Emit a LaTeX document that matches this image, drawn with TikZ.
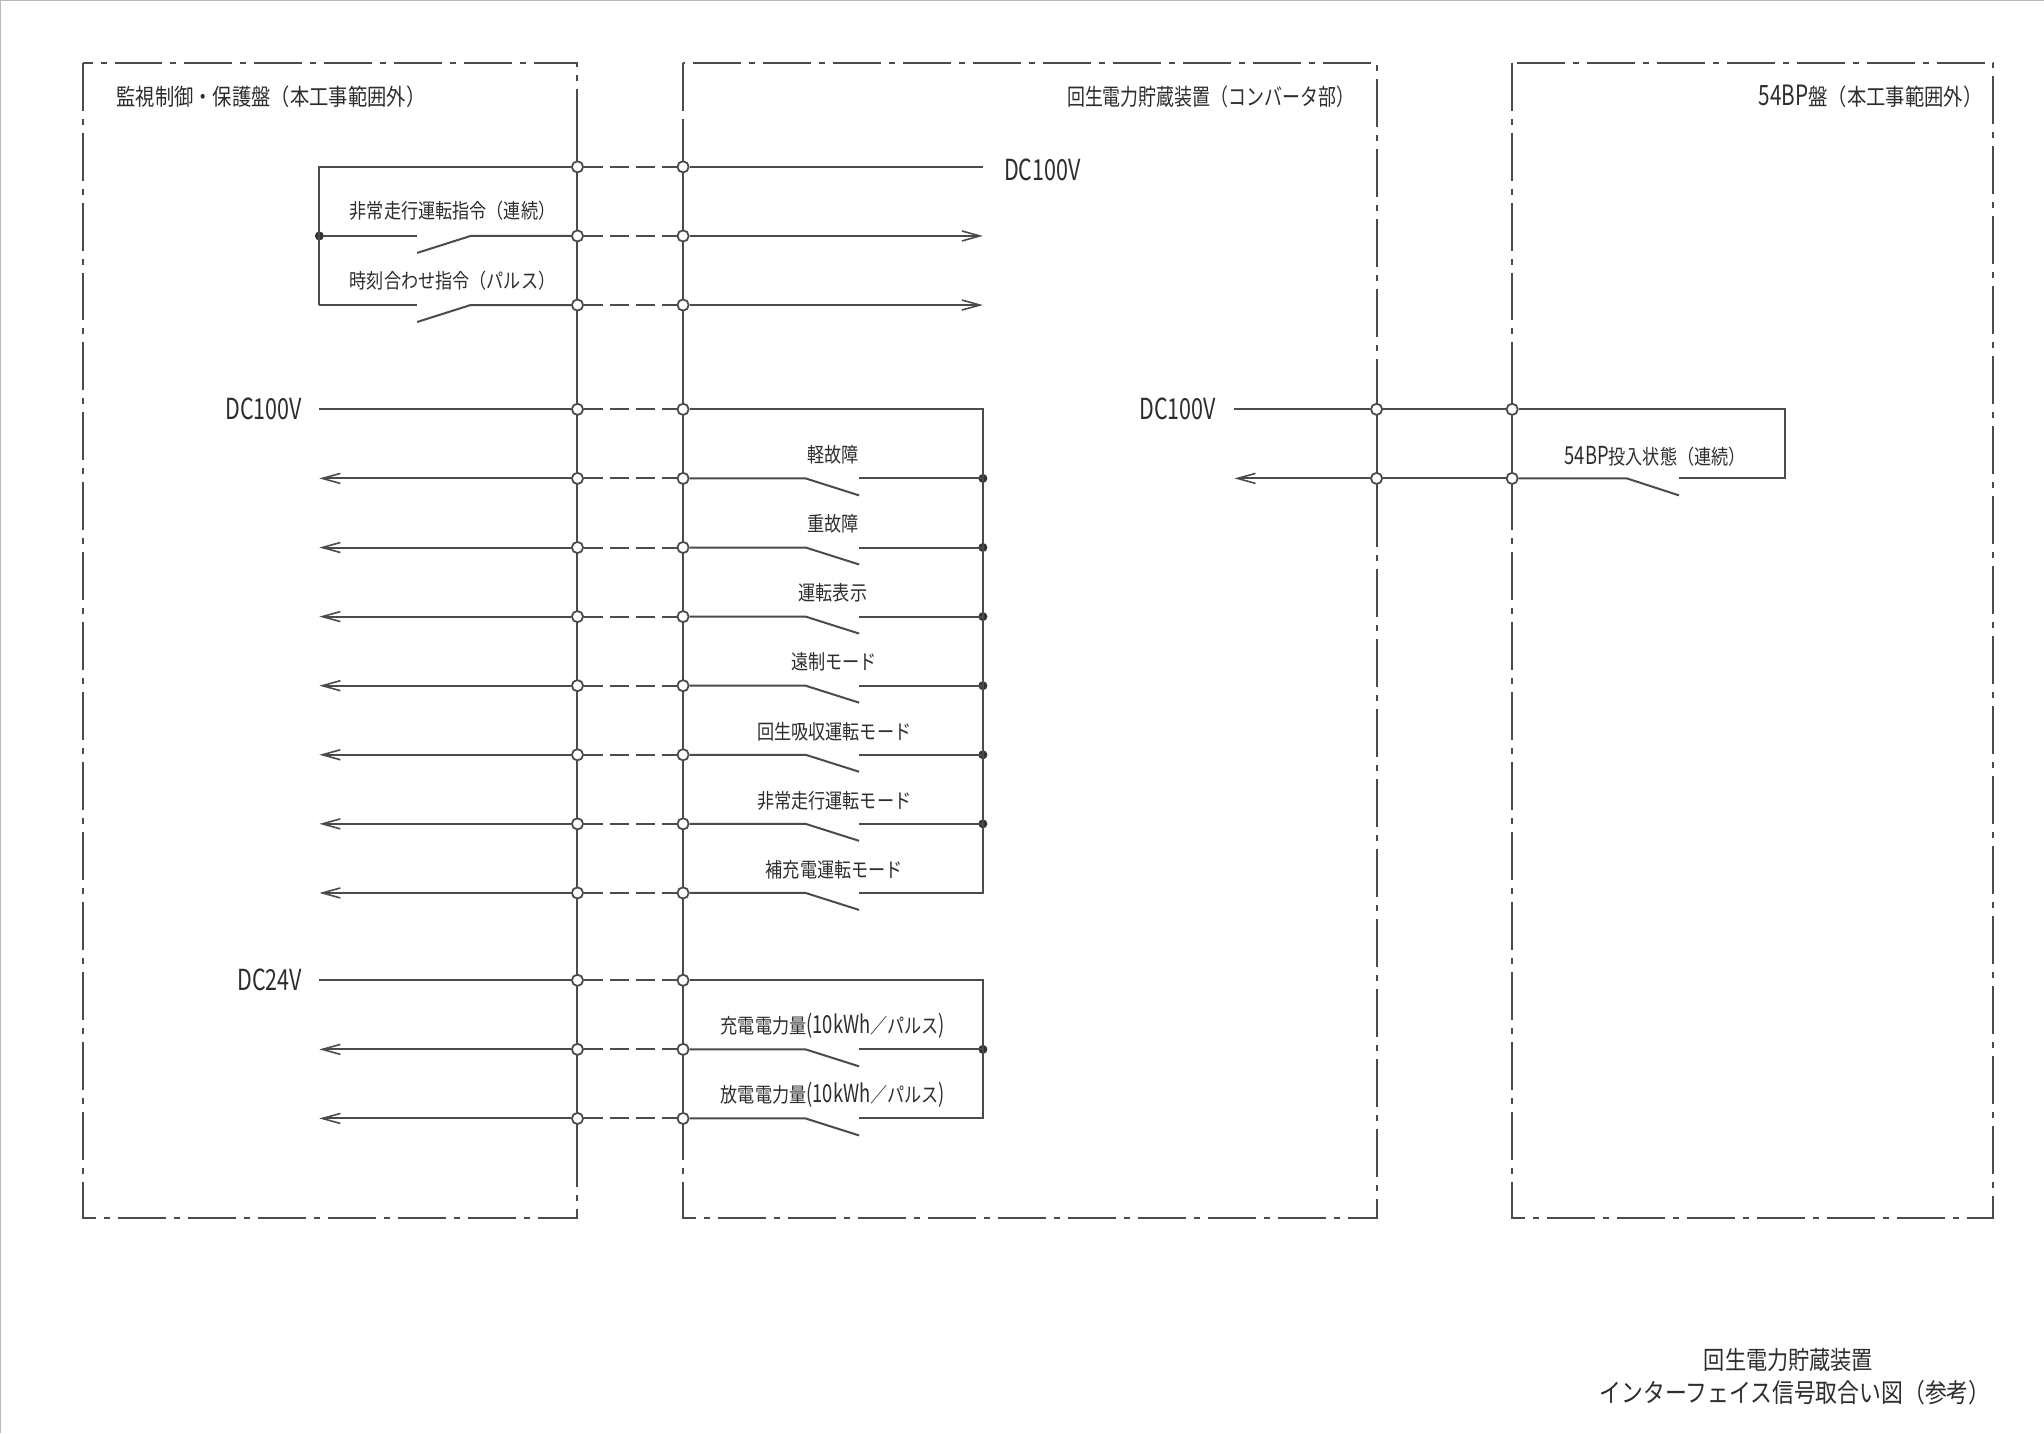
\documentclass[tikz,border=0pt]{standalone}
\usepackage{fontspec}
\newfontfamily\jp[FakeStretch=0.84]{Noto Sans CJK JP}
\newfontfamily\jpm[FakeStretch=0.78]{Noto Sans CJK JP}
\newfontfamily\jpl[FakeStretch=0.74]{Noto Sans CJK JP}
\newcommand\Lbig[1]{{\jpl\fontsize{12.4pt}{12pt}\selectfont #1}}
\newcommand\Tbig[1]{{\jpl\fontsize{14pt}{14pt}\selectfont #1}}
\usetikzlibrary{arrows.meta}
\definecolor{lc}{RGB}{75,75,75}
\definecolor{tc}{RGB}{45,45,45}
\begin{document}
\begin{tikzpicture}[x=0.652pt,y=-0.652pt,
  wire/.style={draw=lc,line width=1pt},
  arr/.style={wire,-{Straight Barb[length=9pt,width=5pt,line width=0.8pt]}},
  dline/.style={wire,dash pattern=on 9.5pt off 3.5pt},
  boxline/.style={draw=lc,line width=1pt,dash pattern=on 24pt off 4pt on 3pt off 4pt},
  term/.style={circle,draw=lc,line width=0.9pt,fill=white,inner sep=0pt,minimum size=5.6pt},
  jdot/.style={circle,fill=black!80,inner sep=0pt,minimum size=4.5pt},
  title/.style={font=\jp\fontsize{11.5pt}{12pt}\selectfont,text=tc,inner sep=0pt},
  titlem/.style={font=\jpm\fontsize{11.5pt}{12pt}\selectfont,text=tc,inner sep=0pt},
  captext/.style={font=\jp\fontsize{12.6pt}{13pt}\selectfont,text=tc,inner sep=0pt},
  lab/.style={font=\jp\fontsize{10.2pt}{11pt}\selectfont,text=tc,inner sep=0pt},
  volt/.style={font=\jpl\fontsize{14.5pt}{15pt}\selectfont,text=tc,inner sep=0pt}]
\useasboundingbox (0,0) rectangle (1568,1099.3);
% page edge
\draw[gray!55,line width=1pt] (0,1099.3) -- (0,0) -- (1568,0);
% boxes
\draw[boxline] (64,48) rectangle (443,934);
\draw[boxline] (524,48) rectangle (1056,934);
\draw[boxline] (1160,48) rectangle (1529,934);
% solid terminal strips
\draw[wire] (443,94) -- (443,890);
\draw[wire] (524,94) -- (524,890);
\draw[wire] (1056,285) -- (1056,396);
\draw[wire] (1160,285) -- (1160,396);
% titles
\node[title,anchor=west] (t1) at (89,74) {監視制御・保護盤（本工事範囲外）};
\node[titlem,anchor=east] (t2) at (1039,74) {回生電力貯蔵装置（コンバータ部）};
\node[title,anchor=east] (t3) at (1521,74) {\Tbig{54BP}盤（本工事範囲外）};
% terminals
\foreach \i/\y in {1/128,2/181,3/234,4/314,5/367,6/420,7/473,8/526,9/579,10/632,11/685,12/752,13/805,14/858}{
  \node[term] (tl\i) at (443,\y) {};
  \node[term] (tr\i) at (524,\y) {};
  \draw[dline] (tl\i) -- (tr\i);
}
% --- top group (commands from left panel)
\coordinate (c1) at (245,128);
\coordinate (c3) at (245,234);
\node[jdot] (j2) at (245,181) {};
\draw[wire] (tl1) -- (c1) -- (c3);
\coordinate (e1) at (754,128);
\draw[wire] (tr1) -- (e1);
\node[volt,anchor=west] (v1) at (770,130) {DC100V};
\foreach \i/\y in {2/181,3/234}{
  \coordinate (sa\i) at (320,\y);
  \coordinate (sb\i) at (320,\y+13);
  \coordinate (sc\i) at (361,\y);
  \coordinate (e\i) at (754,\y);
  \draw[wire] (tl\i) -- (sc\i) -- (sb\i);
  \draw[arr] (tr\i) -- (e\i);
}
\draw[wire] (j2) -- (sa2);
\draw[wire] (c3) -- (sa3);
\node[lab,anchor=west] (l2) at (268,162) {非常走行運転指令（連続）};
\node[lab,anchor=west] (l3) at (268,215) {時刻合わせ指令（パルス）};
% --- middle group (DC100V status)
\coordinate (w4) at (245,314);
\draw[wire] (tl4) -- (w4);
\node[volt,anchor=east] (v4) at (232,314) {DC100V};
\coordinate (b4) at (754,314);
\coordinate (b11) at (754,685);
\coordinate (b14) at (754,858);
\coordinate (b12) at (754,752);
\foreach \i/\y in {5/367,6/420,7/473,8/526,9/579,10/632,11/685,13/805,14/858}{
  \coordinate (w\i) at (245,\y);
  \draw[arr] (tl\i) -- (w\i);
  \coordinate (sa\i) at (618,\y);
  \coordinate (sb\i) at (659,\y+13);
  \coordinate (sc\i) at (659,\y);
  \draw[wire] (tr\i) -- (sa\i) -- (sb\i);
}
\foreach \i/\y in {5/367,6/420,7/473,8/526,9/579,10/632,13/805}{
  \node[jdot] (d\i) at (754,\y) {};
  \draw[wire] (sc\i) -- (d\i.center);
}
\draw[wire] (tr4) -- (b4) -- (b11) -- (sc11);
\node[lab] (l5) at (639,349) {軽故障};
\node[lab] (l6) at (639,402) {重故障};
\node[lab] (l7) at (639,455) {運転表示};
\node[lab] (l8) at (640,508) {遠制モード};
\node[lab] (l9) at (640,561) {回生吸収運転モード};
\node[lab] (l10) at (640,614) {非常走行運転モード};
\node[lab] (l11) at (640,667) {補充電運転モード};
% --- bottom group (DC24V pulses)
\coordinate (w12) at (245,752);
\draw[wire] (tl12) -- (w12);
\node[volt,anchor=east] (v12) at (232,752) {DC24V};
\draw[wire] (tr12) -- (b12) -- (b14) -- (sc14);
\node[lab] (l13) at (639,787) {充電電力量\Lbig{(10kWh}／パルス\Lbig{)}};
\node[lab] (l14) at (639,840) {放電電力量\Lbig{(10kWh}／パルス\Lbig{)}};
% --- right group (54BP)
\node[term] (ra1) at (1056,314) {};
\node[term] (rb1) at (1160,314) {};
\node[term] (ra2) at (1056,367) {};
\node[term] (rb2) at (1160,367) {};
\coordinate (rw1) at (947,314);
\coordinate (rw2) at (947,367);
\coordinate (rk1) at (1369,314);
\coordinate (rk2) at (1369,367);
\coordinate (rsa) at (1248,367);
\coordinate (rsb) at (1288,380);
\coordinate (rsc) at (1288,367);
\draw[wire] (rw1) -- (ra1);
\draw[wire] (ra1) -- (rb1);
\draw[wire] (rb1) -- (rk1) -- (rk2) -- (rsc);
\draw[wire] (rb2) -- (rsa) -- (rsb);
\draw[wire] (ra2) -- (rb2);
\draw[arr] (ra2) -- (rw2);
\node[volt,anchor=east] (v20) at (933,314) {DC100V};
\node[lab,anchor=west] (l20) at (1200,350) {\Lbig{54BP}投入状態（連続）};
% --- caption
\node[captext] (cap1) at (1372,1043) {回生電力貯蔵装置};
\node[captext,font=\jp\fontsize{13pt}{13pt}\selectfont] (cap2) at (1377,1068) {インターフェイス信号取合い図（参考）};
\end{tikzpicture}
\end{document}
